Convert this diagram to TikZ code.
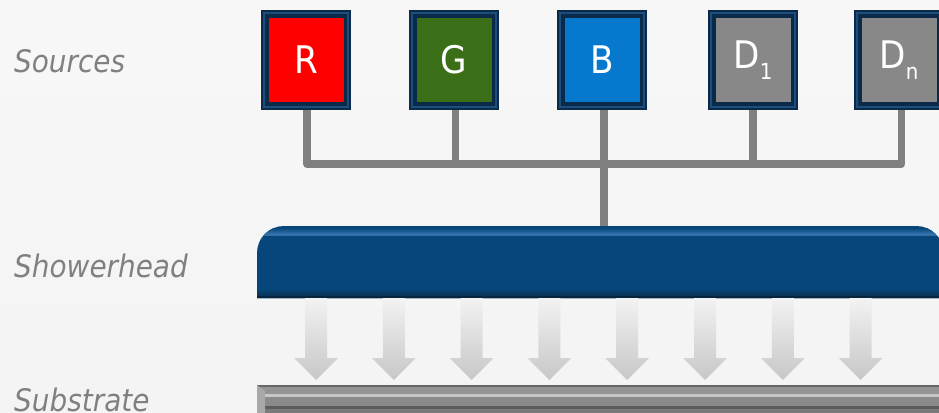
\documentclass[tikz,border=0pt]{standalone}
\usepackage{fontspec}
\setmainfont{DejaVu Sans}[FakeStretch=0.9]
\usetikzlibrary{calc}
\definecolor{navy}{HTML}{0B2A48}
\definecolor{bevel}{HTML}{1C4D80}
\definecolor{cR}{HTML}{FF0000}
\definecolor{cG}{HTML}{3A6F18}
\definecolor{cB}{HTML}{0678CE}
\definecolor{cD}{HTML}{888888}
\definecolor{conncol}{HTML}{808080}
\definecolor{shcol}{HTML}{07467A}
\definecolor{shlight}{HTML}{3575AE}
\definecolor{shdark}{HTML}{0A2E50}
\definecolor{labcol}{HTML}{808080}
\tikzset{
  srcbox/.style={minimum width=90pt, minimum height=100pt, inner sep=0pt,
    fill=navy, text=white, font=\fontsize{38}{38}\selectfont,
    path picture={
      \draw[bevel, line width=2.2pt]
        ([shift={(3pt,3pt)}]path picture bounding box.south west) rectangle
        ([shift={(-3pt,-3pt)}]path picture bounding box.north east);
      \fill[#1]
        ([shift={(7.5pt,8pt)}]path picture bounding box.south west) rectangle
        ([shift={(-7.5pt,-8pt)}]path picture bounding box.north east);
    }},
  conn/.style={draw=conncol, line width=7.5pt, line join=round},
  lab/.style={anchor=base west, inner sep=0pt, text=labcol,
    font=\fontsize{31}{31}\selectfont\itshape}
}
\begin{document}
\begin{tikzpicture}[x=1pt,y=-1pt]
  % background
  \shade[top color=white!97!black, bottom color=white!95.5!black]
    (0,0) rectangle (939,412);
  \useasboundingbox (0,0) rectangle (939,412);

  % labels
  \node[lab] (lsrc) at (14,73) {Sources};
  \node[lab] (lsh) at (14,277) {Showerhead};
  \node[lab] (lsub) at (14,411) {Substrate};

  % source boxes
  \node[srcbox=cR] (R) at (306,60) {R};
  \node[srcbox=cG] (G) at (454,60) {G};
  \node[srcbox=cB] (B) at (602,60) {B};
  \node[srcbox=cD] (D1) at (753,60) {D\raisebox{-0.3em}{\fontsize{22}{22}\selectfont 1}};
  \node[srcbox=cD] (Dn) at (899,60) {D\raisebox{-0.3em}{\fontsize{22}{22}\selectfont n}};

  % showerhead and substrate placeholders
  \node[minimum width=686pt, minimum height=72pt, inner sep=0pt, anchor=north west]
    (sh) at (257,226) {};
  \node[minimum width=686pt, minimum height=34pt, inner sep=0pt, anchor=north west]
    (sb) at (257,385) {};

  % connectors
  \coordinate (bus) at (0,164);
  \draw[conn] ([xshift=1pt]R.south) -- ([xshift=1pt]R.south |- bus)
     -- ([xshift=2.5pt]Dn.south |- bus) -- ([xshift=2.5pt]Dn.south);
  \draw[conn] ([xshift=1.5pt]G.south) -- ([xshift=1.5pt]G.south |- bus);
  \draw[conn] (D1.south) -- (D1.south |- bus);
  \draw[conn, line cap=butt] ([xshift=2pt]B.south) -- ([xshift=2pt]B.south |- sh.north);

  % showerhead body
  \fill[shcol] (sh.south west) [rounded corners=27pt] -- (sh.north west)
     -- (sh.north east) [sharp corners] -- (sh.south east) -- cycle;
  \begin{scope}
    \clip (sh.south west) [rounded corners=27pt] -- (sh.north west)
     -- (sh.north east) [sharp corners] -- (sh.south east) -- cycle;
    \shade[top color=shcol, bottom color=shcol, middle color=shlight]
      ($(sh.north west)+(0,2)$) rectangle ($(sh.north east)+(0,14)$);
    \fill[shcol] ($(sh.north west)+(6,10)$) rectangle ($(sh.south east)+(0,-8)$);
    \shade[top color=shcol, bottom color=shdark]
      ($(sh.south west)+(0,-9)$) rectangle ($(sh.south east)+(0,-2)$);
    \fill[shdark!80!black] ($(sh.south west)+(0,-2)$) rectangle (sh.south east);
  \end{scope}

  % arrows
  \foreach \i in {0,...,7} {
    \pgfmathsetmacro{\cx}{316+\i*77.8}
    \shade[top color=white!95!black, bottom color=white!78!black]
      (\cx-11,298) -- (\cx+11,298) -- (\cx+11,358) -- (\cx+22,358)
      -- (\cx,380) -- (\cx-22,358) -- (\cx-11,358) -- cycle;
  }

  % substrate
  \fill[white!48!black] (sb.north west) rectangle (sb.south east);
  \fill[white!40!black] (sb.north west) rectangle ($(sb.north east)+(0,2)$);
  \fill[white!58!black] ($(sb.north west)+(0,2)$) rectangle ($(sb.north east)+(0,9)$);
  \fill[white!78!black] ($(sb.north west)+(0,9)$) rectangle ($(sb.north east)+(0,11.5)$);
  \fill[white!54!black] ($(sb.north west)+(0,11.5)$) rectangle ($(sb.north east)+(0,21)$);
  \fill[white!36!black] ($(sb.north west)+(0,21)$) rectangle ($(sb.north east)+(0,24)$);
  \fill[white!66!black] (sb.north west) -- ($(sb.north west)+(8,6)$)
     -- ($(sb.north west)+(8,28)$) -- ($(sb.north west)+(0,34)$) -- cycle;
\end{tikzpicture}
\end{document}
